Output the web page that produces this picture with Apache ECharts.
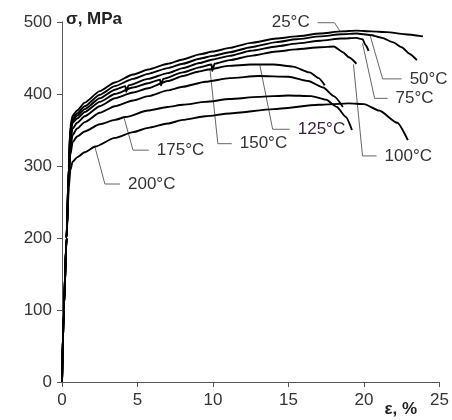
<!DOCTYPE html>
<html>
<head>
<meta charset="utf-8">
<script src="https://cdn.jsdelivr.net/npm/echarts@6/dist/echarts.min.js"></script>
<style>
    html, body { margin: 0; padding: 0; background: #fff; }
    #main { width: 452px; height: 420px; }
</style>
</head>
<body>
<div id="main"></div>
<script>
// 温度标签
const temps = ['25°C', '50°C', '75°C', '100°C', '125°C', '150°C', '175°C', '200°C'];

// 坐标轴刻度
const epsTicks = [0, 5, 10, 15, 20, 25];
const sigmaTicks = [0, 100, 200, 300, 400, 500];

// 应力-应变曲线 [ε %, σ MPa]
const curve25 = [[0, 0], [0.12, 100], [0.3, 200], [0.45, 300], [0.55, 355], [0.7, 370], [1, 377], [1.5, 388], [2.5, 404], [3.5, 416], [4.7, 427], [5.7, 434], [7, 442], [8, 448], [9.1, 455], [10, 459], [11.1, 464], [12.5, 471], [14.2, 477], [15.5, 480], [17.1, 484], [18.5, 487], [19.5, 488], [20.5, 487], [21.5, 486], [22.7, 483], [23.9, 480]];
const curve50 = [[0, 0], [0.12, 100], [0.3, 200], [0.45, 300], [0.55, 350], [0.7, 366], [1, 373], [1.5, 383], [2.5, 399], [3.5, 411], [4.7, 421], [5.7, 428], [7, 436], [8, 442], [9.1, 449], [10, 453], [11.1, 458], [12.5, 465], [14.2, 472], [15.5, 476], [17.1, 480], [18.5, 483], [19.5, 484], [20.4, 482], [21.2, 478], [21.9, 472], [22.5, 465], [23, 456], [23.5, 447]];
const curve75 = [[0, 0], [0.12, 100], [0.3, 200], [0.45, 298], [0.55, 348], [0.7, 363], [1, 370], [1.5, 379], [2.5, 394], [3.5, 406], [4.2, 411], [4.25, 403], [4.4, 412], [5.7, 421], [7, 429], [8, 436], [9.1, 443], [10, 448], [11.1, 453], [12.5, 460], [14.2, 466], [15.5, 470], [17.1, 474], [18.5, 477], [19.5, 478], [19.9, 476], [20.1, 468], [20.3, 460]];
const curve100 = [[0, 0], [0.12, 100], [0.3, 200], [0.45, 296], [0.55, 345], [0.7, 360], [1, 366], [1.5, 375], [2.5, 389], [3.5, 400], [4.7, 409], [5.7, 415], [6.5, 420], [6.55, 412], [6.7, 421], [8, 430], [9.1, 437], [9.9, 441], [9.95, 432], [10.1, 442], [11.1, 447], [12.5, 453], [14.2, 459], [15.5, 462], [17.1, 465], [18, 466], [18.6, 458], [19, 451], [19.5, 442]];
const curve125 = [[0, 0], [0.12, 100], [0.3, 200], [0.45, 290], [0.55, 335], [0.7, 352], [1, 360], [1.5, 369], [2.5, 383], [3.5, 394], [4.7, 402], [5.7, 408], [7, 418], [8, 425], [9, 431], [9.7, 434], [11, 439], [12.5, 441], [14, 441], [15.3, 438], [16.4, 430], [17, 422], [17.4, 412]];
const curve150 = [[0, 0], [0.12, 100], [0.3, 200], [0.45, 285], [0.55, 325], [0.7, 343], [1, 352], [1.5, 361], [2.5, 374], [3.5, 383], [4.7, 391], [5.7, 397], [7, 405], [8, 410], [9.5, 417], [11.1, 422], [13, 425], [15, 424], [16.3, 418], [17.3, 409], [18, 397], [18.6, 382]];
const curve175 = [[0, 0], [0.12, 100], [0.3, 200], [0.45, 280], [0.55, 315], [0.7, 333], [1, 341], [1.5, 348], [2.5, 358], [3.5, 364], [4.2, 368], [5.7, 377], [7, 382], [8, 385], [9.5, 389], [11.1, 393], [13, 396], [15, 398], [16.5, 397], [17.5, 392], [18.2, 382], [18.8, 368], [19.2, 350]];
const curve200 = [[0, 0], [0.12, 100], [0.3, 200], [0.45, 270], [0.55, 294], [0.7, 306], [1, 312], [1.5, 319], [2.2, 327], [3.5, 339], [4.7, 347], [5.7, 353], [7, 359], [8, 364], [9.5, 369], [11.1, 373], [14, 379], [17, 385], [19, 387], [20, 386], [21, 377], [22.2, 360], [22.9, 336]];

// 标注引线（曲线上的点 -> 拐点 -> 文字处）
const lead25 = [[18.45, 485.7], [18.05, 499], [16.93, 499]];
const lead50 = [[20.4, 481.6], [21.23, 421], [22.49, 421]];
const lead75 = [[19.9, 470.5], [20.7, 394], [21.56, 394]];
const lead100 = [[19.3, 441], [19.9, 314], [20.83, 314]];
const lead125 = [[13.1, 440], [13.95, 351], [15.08, 351]];
const lead150 = [[9.79, 435.9], [10.32, 331], [11.24, 331]];
const lead175 = [[4.1, 368], [4.7, 322], [5.75, 322]];
const lead200 = [[2.18, 326.5], [2.84, 275], [3.84, 275]];

const curves = [curve25, curve50, curve75, curve100, curve125, curve150, curve175, curve200];
const leads = [lead25, lead50, lead75, lead100, lead125, lead150, lead175, lead200];

const font = 'Liberation Sans, Arial, sans-serif';
let chart = echarts.init(document.getElementById('main'));

let series = [];
curves.forEach(function (c, i) {
    series.push({
        name: temps[i],
        type: 'line',
        data: c,
        showSymbol: false,
        smooth: 0.2,
        smoothMonotone: 'x',
        silent: true,
        lineStyle: { color: '#000', width: 1.9 },
        z: 3
    });
});
leads.forEach(function (l, i) {
    let left = i === 0; // 25°C 文字在引线左侧
    series.push({
        name: temps[i],
        type: 'line',
        data: l,
        symbol: 'none',
        silent: true,
        lineStyle: { color: '#666', width: 1 },
        endLabel: {
            show: true,
            formatter: '{a}',
            fontFamily: font,
            fontSize: 17,
            color: i === 4 ? '#3a1d3a' : '#333',
            distance: left ? -8 : 8,
            align: left ? 'right' : 'left'
        },
        z: 2
    });
});

chart.setOption({
    animation: false,
    backgroundColor: '#fff',
    grid: { left: 62, right: 12, top: 22, bottom: 38 },
    xAxis: {
        type: 'value',
        min: epsTicks[0],
        max: epsTicks[epsTicks.length - 1],
        interval: 5,
        name: 'ε, %',
        nameLocation: 'end',
        nameGap: -55,
        nameTextStyle: {
            fontFamily: font, fontSize: 17, fontWeight: 'bold', color: '#222',
            align: 'left', verticalAlign: 'top', padding: [19, 0, 0, 0]
        },
        axisLine: { show: true, lineStyle: { color: '#555', width: 1 } },
        axisTick: { show: true, length: 5, lineStyle: { color: '#555' } },
        axisLabel: { fontFamily: font, fontSize: 17, color: '#333', margin: 10 },
        splitLine: { show: false }
    },
    yAxis: {
        type: 'value',
        min: sigmaTicks[0],
        max: sigmaTicks[sigmaTicks.length - 1],
        interval: 100,
        name: 'σ, MPa',
        nameLocation: 'end',
        nameGap: 3,
        nameTextStyle: {
            fontFamily: font, fontSize: 17, fontWeight: 'bold', color: '#222',
            align: 'left', verticalAlign: 'middle', padding: [0, 0, 0, 4]
        },
        axisLine: { show: true, lineStyle: { color: '#555', width: 1 } },
        axisTick: { show: true, length: 5, lineStyle: { color: '#555' } },
        axisLabel: { fontFamily: font, fontSize: 17, color: '#333', margin: 10 },
        splitLine: { show: false }
    },
    series: series
});
</script>
</body>
</html>
